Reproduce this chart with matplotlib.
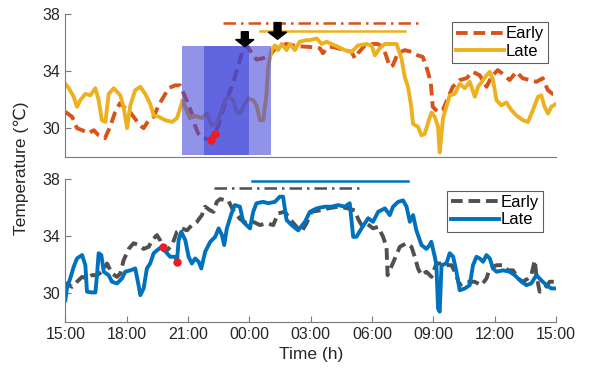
import numpy as np
import matplotlib
matplotlib.use('Agg')
import matplotlib.pyplot as plt
from matplotlib.patches import Rectangle, FancyArrow

plt.rcParams['font.family'] = ['Liberation Sans', 'DejaVu Sans']

# time axis: hours after 15:00
TICK_HOURS = [0, 3, 6, 9, 12, 15, 18, 21, 24]
TICK_LABELS = ["15:00", "18:00", "21:00", "00:00", "03:00", "06:00", "09:00", "12:00", "15:00"]
Y_TICKS = [30, 34, 38]

# ---- top panel ----
top_early_h = [0.0, 0.33, 0.57, 0.82, 1.14, 1.39, 1.63, 1.94, 2.18, 2.43, 2.67, 2.85, 3.18, 3.65, 3.83,
               4.08, 4.32, 4.56, 4.81, 5.05, 5.36, 5.61, 5.93, 6.18, 6.34, 6.49, 6.73, 7.07, 7.46, 7.71,
               7.95, 8.2, 8.44, 8.69, 8.87, 9.11, 9.35, 9.66, 10.0, 10.33, 10.82, 11.3, 11.88, 12.2, 12.45,
               12.6, 12.78, 13.08, 13.33, 13.67, 14.0, 14.16, 14.31, 14.65, 14.98, 15.28, 15.53, 15.71,
               15.87, 16.02, 16.26, 16.6, 16.93, 17.24, 17.48, 17.66, 17.87, 17.97, 18.22, 18.46, 18.71,
               18.95, 19.29, 19.62, 19.93, 20.27, 20.6, 20.84, 21.15, 21.49, 21.73, 22.06, 22.37, 22.71,
               23.04, 23.35, 23.6, 23.84, 24.0]
top_early_t = [31.14, 30.8, 30.0, 29.86, 29.65, 29.86, 29.5, 29.3, 30.07, 31.1, 31.75, 31.5, 31.1, 30.2, 30.0,
               30.56, 30.8, 31.6, 32.2, 32.8, 33.0, 33.0, 31.96, 31.05, 30.2, 29.65, 29.3, 29.2, 30.07, 31.26,
               32.2, 33.15, 34.3, 35.5, 35.8, 35.3, 34.8, 34.9, 35.1, 35.7, 35.9, 35.75, 35.7, 35.66, 35.6,
               35.25, 35.6, 35.7, 35.6, 35.47, 35.35, 34.9, 35.25, 35.8, 35.9, 35.9, 35.7, 35.0,
               34.3, 34.4, 35.25, 35.47, 35.35, 35.1, 35.0, 34.3, 33.25, 31.5, 31.14, 31.26, 32.1,
               32.9, 33.37, 33.5, 33.95, 33.7, 32.9, 33.6, 34.07, 33.7, 33.37, 33.95, 33.5, 33.37,
               33.25, 33.5, 32.67, 32.4, 32.4]

top_late_h = [0.0, 0.17, 0.41, 0.57, 0.73, 0.98, 1.22, 1.47, 1.63, 1.79, 1.96, 2.12, 2.37, 2.53, 2.69,
              2.85, 3.02, 3.18, 3.42, 3.67, 3.91, 4.15, 4.32, 4.57, 4.89, 5.22, 5.46, 5.62, 5.73, 5.93,
              6.09, 6.26, 6.5, 6.67, 6.91, 7.16, 7.4, 7.64, 7.81, 7.97, 8.21, 8.38, 8.54, 8.78, 8.94,
              9.19, 9.35, 9.52, 9.68, 9.84, 9.92, 10.09, 10.25, 10.41, 10.58, 10.82, 10.98, 11.23, 11.46,
              11.8, 11.96, 12.29, 12.54, 12.78, 13.02, 13.34, 13.67, 14.0, 14.32, 14.73, 14.98, 15.14,
              15.38, 15.62, 15.95, 16.2, 16.44, 16.6, 16.76, 16.9, 17.01, 17.25, 17.42, 17.58, 17.78,
              17.91, 18.07, 18.23, 18.31, 18.4, 18.47, 18.64, 18.8, 19.04, 19.29, 19.54, 19.78, 20.03,
              20.19, 20.43, 20.6, 20.76, 20.92, 21.09, 21.33, 21.57, 21.82, 22.06, 22.38, 22.63, 22.87,
              23.12, 23.28, 23.44, 23.61, 23.77, 24.0]
top_late_t = [33.1, 32.8, 32.2, 31.5, 31.96, 32.4, 32.3, 32.8, 31.96, 30.56, 30.44, 32.4, 32.8, 32.55, 32.3,
              31.5, 30.0, 31.6, 32.67, 32.9, 32.4, 31.7, 30.9, 30.8, 30.56, 30.44, 30.7, 31.4, 31.96, 31.26,
              30.7, 30.9, 30.8, 30.7, 31.03, 30.2, 30.3, 31.26, 31.96, 32.2, 31.96, 31.14, 31.03, 31.7, 32.1,
              31.96, 31.6, 30.56, 30.56, 32.4, 34.3, 35.47, 35.8, 35.47, 35.9, 35.47, 35.9, 35.47, 36.06,
              36.17, 36.17, 36.29, 35.9, 36.06, 35.9, 35.7, 35.47, 35.35, 35.8, 35.9, 35.8, 35.1,
              35.6, 35.9, 35.9, 35.9, 34.9, 33.6, 32.9, 31.7, 30.3, 30.1, 29.5, 29.6, 30.56,
              31.1, 30.8, 30.1, 28.3, 29.6, 30.7, 31.5, 32.3, 32.4, 33.1, 32.8, 33.25, 32.2,
              32.9, 33.37, 33.7, 33.95, 33.37, 31.96, 31.6, 31.8, 31.26, 30.9, 30.56, 30.44, 31.26,
              32.2, 32.3, 31.5, 31.03, 31.5, 31.7]

# ---- bottom panel ----
bot_early_h = [0.0, 0.08, 0.33, 0.57, 0.82, 1.06, 1.3, 1.55, 1.79, 2.04, 2.28, 2.53, 2.69, 2.85, 3.1,
               3.34, 3.59, 3.83, 4.08, 4.24, 4.48, 4.64, 4.81, 4.97, 5.22, 5.46, 5.7, 5.95, 6.19, 6.44,
               6.68, 6.84, 7.09, 7.25, 7.41, 7.58, 7.82, 7.97, 8.21, 8.54, 8.87, 9.19, 9.52, 9.84, 10.17,
               10.41, 10.74, 10.98, 11.31, 11.55, 11.8, 12.04, 12.45, 12.85, 13.34, 13.83, 14.16, 14.32,
               14.49, 14.73, 15.05, 15.3, 15.54, 15.71, 15.76, 15.87, 16.12, 16.36, 16.69, 16.93, 17.09,
               17.25, 17.42, 17.66, 17.91, 18.15, 18.4, 18.64, 18.89, 19.05, 19.29, 19.62, 20.02, 20.35,
               20.6, 20.76, 21.09, 21.41, 21.65, 21.9, 22.14, 22.38, 22.63, 22.79, 22.96, 23.04, 23.2,
               23.45, 23.69, 24.0]
bot_early_t = [30.33, 30.68, 30.44, 30.8, 31.14, 31.03, 31.26, 31.26, 31.5, 32.08, 31.38, 31.14, 31.38, 32.3, 33.1,
               33.5, 33.37, 33.1, 33.25, 33.7, 34.07, 33.7, 33.0, 33.0, 33.37, 34.3, 34.54, 34.4, 34.77, 35.0,
               35.47, 36.06, 35.8, 35.7, 36.4, 36.6, 36.5, 36.5, 35.8, 35.2, 34.9, 35.0, 34.77, 34.9, 34.77,
               35.6, 35.7, 35.2, 34.65, 34.3, 34.9, 35.7, 35.8, 35.94, 36.06, 35.94, 35.8, 35.2,
               34.77, 34.9, 34.54, 34.65, 33.95, 33.25, 31.26, 31.6, 32.43, 33.25, 33.5, 33.25, 32.55,
               31.73, 31.26, 31.5, 31.14, 32.08, 32.08, 31.96, 31.96, 31.5, 30.56, 30.8, 30.8, 30.56,
               31.03, 31.73, 31.96, 31.96, 31.6, 31.6, 31.03, 30.8, 31.03, 31.26, 32.3, 31.26, 30.1,
               30.33, 30.8, 30.8]

bot_late_h = [0.0, 0.08, 0.24, 0.41, 0.57, 0.82, 0.98, 1.06, 1.3, 1.47, 1.55, 1.63, 1.76, 1.88, 2.12,
              2.28, 2.53, 2.77, 2.93, 3.18, 3.42, 3.55, 3.67, 3.83, 3.99, 4.15, 4.32, 4.57, 4.73, 4.97,
              5.13, 5.38, 5.46, 5.54, 5.67, 5.87, 6.03, 6.19, 6.35, 6.52, 6.65, 6.84, 7.09, 7.33, 7.5,
              7.66, 7.77, 7.9, 8.13, 8.29, 8.54, 8.7, 9.03, 9.19, 9.35, 9.68, 9.92, 10.25, 10.49, 10.65,
              10.82, 11.07, 11.39, 11.72, 11.96, 12.29, 12.69, 13.02, 13.34, 13.67, 13.91, 14.08, 14.24,
              14.49, 14.81, 15.05, 15.3, 15.63, 15.87, 16.03, 16.28, 16.52, 16.69, 16.85, 17.01, 17.17,
              17.42, 17.66, 17.82, 17.9, 18.07, 18.15, 18.23, 18.31, 18.4, 18.64, 18.8, 18.97, 19.13,
              19.29, 19.54, 19.78, 19.94, 20.11, 20.27, 20.43, 20.6, 20.76, 20.92, 21.09, 21.41, 21.73,
              21.98, 22.31, 22.56, 22.79, 23.04, 23.28, 23.53, 23.77, 24.0]
bot_late_t = [29.5, 30.33, 31.03, 31.85, 32.43, 32.67, 31.96, 30.1, 30.05, 30.05, 31.26, 32.8, 32.67, 31.5, 31.26,
              30.8, 30.68, 31.03, 31.5, 31.6, 31.73, 30.8, 29.86, 30.33, 31.73, 32.08, 32.8, 33.1, 33.25, 32.8,
              32.55, 32.55, 32.2, 33.7, 34.3, 33.7, 32.55, 32.08, 32.43, 32.2, 31.73, 32.9, 33.6, 33.95, 34.54,
              34.07, 33.37, 34.54, 35.6, 36.17, 36.06, 35.0, 34.54, 35.7, 36.3, 36.4, 36.3, 36.4, 36.76, 36.76,
              35.13, 34.77, 34.4, 35.0, 35.7, 35.94, 36.06, 36.06, 36.17, 36.06, 36.3, 33.95, 33.95,
              34.54, 35.25, 35.0, 35.7, 35.94, 35.47, 36.06, 36.4, 36.5, 36.06, 35.0, 35.47, 34.4,
              33.37, 33.1, 33.37, 33.6, 32.55, 31.96, 28.93, 28.7, 31.96, 32.08, 32.8, 32.55, 31.5,
              30.2, 30.33, 30.56, 31.96, 32.55, 32.43, 32.2, 32.67, 32.43, 31.73, 31.5, 31.6, 31.5,
              31.26, 30.8, 30.56, 30.68, 31.26, 30.9, 30.56, 30.33, 30.33]

# sleep periods (start, end, level) drawn as horizontal bars
top_early_bar = (7.72, 17.46, 37.35)
top_late_bar = (9.5, 16.6, 36.83)
bot_early_bar = (7.28, 14.57, 37.35)
bot_late_bar = (9.11, 16.77, 37.86)

# shaded windows (start, end), temperature range
shade_windows = [(5.69, 8.98), (6.78, 10.04)]
shade_range = (28.1, 35.75)

# markers
top_dots_h, top_dots_t = [7.12, 7.33], [29.19, 29.59]
bot_dots_h, bot_dots_t = [4.77, 5.45], [33.2, 32.17]
arrows_h = [8.78, 10.38]
arrows_top = [36.76, 37.4]
arrows_tip = [35.71, 36.23]

C_EARLY_TOP = '#D95319'
C_LATE_TOP = '#EDB120'
C_EARLY_BOT = '#505050'
C_LATE_BOT = '#0072BD'
SPINE = '#7a7a7a'
TXT = '#262626'


def style_axes(ax, show_x):
    ax.set_xlim(0, 24)
    ax.set_ylim(28, 38)
    ax.set_yticks(Y_TICKS)
    for s in ['top', 'right']:
        ax.spines[s].set_visible(False)
    for s in ['left', 'bottom']:
        ax.spines[s].set_color(SPINE)
        ax.spines[s].set_linewidth(0.8)
    ax.tick_params(direction='in', colors=SPINE, labelcolor=TXT, labelsize=11.5, length=4, width=0.8)
    if show_x:
        ax.set_xticks(TICK_HOURS)
        ax.set_xticklabels(TICK_LABELS)
    else:
        ax.set_xticks([])


def add_legend(ax, anchor):
    leg = ax.legend(loc='upper right', bbox_to_anchor=anchor, fontsize=12, fancybox=False,
                    framealpha=1, edgecolor='#606060', handlelength=2.9, handletextpad=0.1,
                    borderpad=0.25, labelspacing=0.15, borderaxespad=0)
    leg.get_frame().set_linewidth(0.8)


fig = plt.figure(figsize=(5.89, 3.77), dpi=100)
ax1 = fig.add_axes([0.1109, 0.5843, 0.8331, 0.3785])
ax2 = fig.add_axes([0.1109, 0.1467, 0.8331, 0.3785])

lw = 2.8
# top panel
ax1.plot(top_early_h, top_early_t, color=C_EARLY_TOP, lw=lw, dashes=(3.0, 1.5), label='Early', zorder=2)
ax1.plot(top_late_h, top_late_t, color=C_LATE_TOP, lw=lw, label='Late', zorder=2, solid_joinstyle='round')
ax1.plot(top_early_bar[:2], [top_early_bar[2]] * 2, color=C_EARLY_TOP, lw=1.8, dashes=(5, 2, 1, 2), zorder=2)
ax1.plot(top_late_bar[:2], [top_late_bar[2]] * 2, color=C_LATE_TOP, lw=1.8, zorder=2)
for x0, x1 in shade_windows:
    ax1.add_patch(Rectangle((x0, shade_range[0]), x1 - x0, shade_range[1] - shade_range[0],
                            facecolor=(0.25, 0.27, 0.85), alpha=0.58, edgecolor='none', zorder=3))
ax1.plot(top_dots_h, top_dots_t, 'o', color='#ee1c25', ms=5, zorder=4)
for xh, yt, yb in zip(arrows_h, arrows_top, arrows_tip):
    ax1.add_patch(FancyArrow(xh, yt, 0, yb - yt, width=0.34, head_width=0.9, head_length=0.5,
                             length_includes_head=True, color='black', zorder=5))
style_axes(ax1, False)
add_legend(ax1, (0.984, 0.942))

# bottom panel
ax2.plot(bot_early_h, bot_early_t, color=C_EARLY_BOT, lw=lw, dashes=(3.0, 1.5), label='Early', zorder=2)
ax2.plot(bot_late_h, bot_late_t, color=C_LATE_BOT, lw=lw, label='Late', zorder=2, solid_joinstyle='round')
ax2.plot(bot_early_bar[:2], [bot_early_bar[2]] * 2, color=C_EARLY_BOT, lw=1.8, dashes=(5, 2, 1, 2), zorder=2)
ax2.plot(bot_late_bar[:2], [bot_late_bar[2]] * 2, color=C_LATE_BOT, lw=1.8, zorder=2)
ax2.plot(bot_dots_h, bot_dots_t, 'o', color='#ee1c25', ms=5, zorder=4)
style_axes(ax2, True)
add_legend(ax2, (0.974, 0.918))
ax2.set_xlabel('Time (h)', fontsize=12.5, color=TXT, labelpad=4)

fig.text(0.037, 0.555, 'Temperature (℃)', rotation=90, ha='center', va='center', fontsize=12.5, color=TXT)

fig.savefig('out.png', dpi=100)
